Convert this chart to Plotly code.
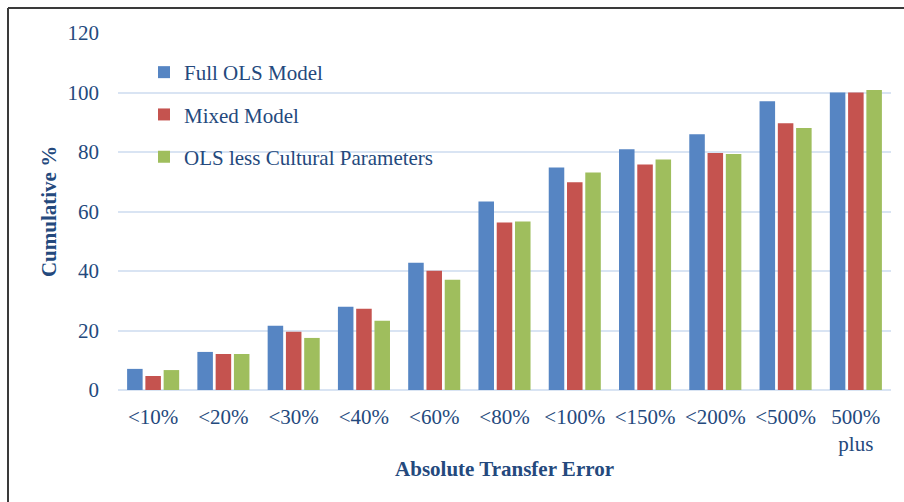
import plotly.graph_objects as go

categories = ["<10%", "<20%", "<30%", "<40%", "<60%", "<80%", "<100%", "<150%", "<200%", "<500%", "500%<br>plus"]
full_ols = [7.1, 12.8, 21.6, 28.0, 42.8, 63.4, 74.8, 80.9, 86.0, 97.1, 100.0]
mixed = [4.7, 12.1, 19.6, 27.3, 40.1, 56.3, 69.8, 75.8, 79.7, 89.7, 100.0]
ols_less = [6.7, 12.1, 17.5, 23.3, 37.1, 56.6, 73.1, 77.5, 79.3, 88.1, 100.8]
y_ticks = [0, 20, 40, 60, 80, 100, 120]

series_names = ["Full OLS Model", "Mixed Model", "OLS less Cultural Parameters"]
colors = ["#5685c3", "#c5534f", "#9fbe5d"]

W, H = 904, 502
L, R, T, B = 118, 13, 33, 112
pw, ph = W - L - R, H - T - B

text_col = "#24497d"
font_fam = "Liberation Serif, DejaVu Serif, serif"
FS = 21

fig = go.Figure()
for i, (name, vals) in enumerate(zip(series_names, [full_ols, mixed, ols_less])):
    fig.add_trace(go.Bar(
        x=categories, y=vals, name=name,
        marker=dict(color=colors[i], line=dict(width=0)),
        legendgroup=f"g{i}",
    ))

def px_x(px):
    return (px - L) / pw

def px_y(py):
    return (H - B - py) / ph

fig.update_layout(
    width=W, height=H,
    margin=dict(l=L, r=R, t=T, b=B),
    paper_bgcolor="white", plot_bgcolor="white",
    barmode="group", bargap=0.22, bargroupgap=0.15,
    font=dict(family=font_fam, size=FS, color=text_col),
    showlegend=True,
    legend=dict(
        x=px_x(144), y=px_y(52), xanchor="left", yanchor="top",
        bgcolor="rgba(0,0,0,0)", font=dict(size=FS, color=text_col),
        tracegroupgap=12, itemwidth=30,
    ),
    xaxis=dict(
        showgrid=False, tickfont=dict(size=FS, color=text_col),
        title=dict(text="<b>Absolute Transfer Error</b>", font=dict(size=FS, color=text_col), standoff=6),
        showline=False, ticks="", ticklabelstandoff=12,
    ),
    yaxis=dict(
        range=[0, 120], tickvals=y_ticks, showgrid=True, gridcolor="#d9e4f3", gridwidth=2,
        zeroline=True, zerolinecolor="#d9e4f3", zerolinewidth=2,
        tickfont=dict(size=FS, color=text_col), ticks="", ticklabelstandoff=18,
        title=dict(text="<b>Cumulative %</b>", font=dict(size=FS, color=text_col), standoff=5),
    ),
    shapes=[
        dict(type="line", xref="paper", yref="paper", x0=px_x(8), x1=px_x(910), y0=px_y(8), y1=px_y(8),
             line=dict(color="#3a3a3a", width=2)),
        dict(type="line", xref="paper", yref="paper", x0=px_x(8), x1=px_x(8), y0=px_y(8), y1=px_y(510),
             line=dict(color="#3a3a3a", width=2)),
    ],
)

fig.write_html("out.html", config={"displayModeBar": False},
               post_script="document.body.style.margin='0px';")
